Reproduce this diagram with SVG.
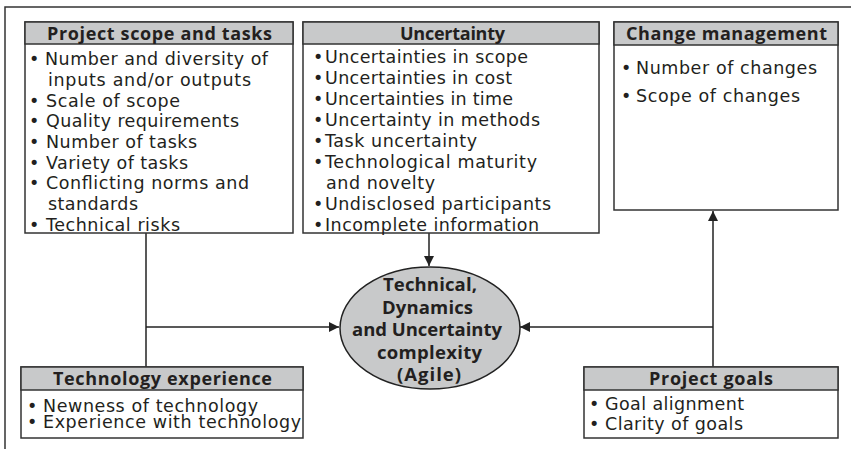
<svg xmlns="http://www.w3.org/2000/svg" width="851" height="449" viewBox="0 0 851 449">
<style>
.box{fill:#fff;stroke:#333;stroke-width:1.5}
.hdr{fill:#c8c9ca;stroke:#333;stroke-width:1.5}
.ht{font-family:"Open Sans","Liberation Sans",sans-serif;font-weight:bold;font-size:18px;fill:#231f20}
.bt{font-family:"DejaVu Sans","Open Sans",sans-serif;font-size:17.5px;fill:#231f20}
.et{font-family:"Open Sans","Liberation Sans",sans-serif;font-weight:bold;font-size:18.5px;fill:#231f20}
.ln{fill:none;stroke:#222;stroke-width:1.5}
</style>
<defs>
<marker id="ah" viewBox="0 0 10 10" refX="10" refY="5" markerWidth="10" markerHeight="10" markerUnits="userSpaceOnUse" orient="auto">
<path d="M0,0 L10,5 L0,10 z" fill="#222"/>
</marker>
</defs>
<rect width="851" height="449" fill="#fff"/>
<path d="M851,7 H5 V449" fill="none" stroke="#333" stroke-width="1.5"/>

<g id="connectors">
<path class="ln" d="M146,233 V367"/>
<path class="ln" d="M146,327 H339" marker-end="url(#ah)"/>
<path class="ln" d="M429,233 V266" marker-end="url(#ah)"/>
<path class="ln" d="M713,367 V211" marker-end="url(#ah)"/>
<path class="ln" d="M713,327 H520" marker-end="url(#ah)"/>
</g>

<g id="project-scope">
<rect class="box" x="25" y="22" width="268" height="211"/>
<rect class="hdr" x="25" y="22" width="268" height="22"/>
<text class="ht" x="47" y="39.5" textLength="225" lengthAdjust="spacing">Project scope and tasks</text>
<text class="bt" x="29" y="65">•</text><text class="bt" x="45" y="65" textLength="223" lengthAdjust="spacing">Number and diversity of</text>
<text class="bt" x="48" y="86" textLength="203" lengthAdjust="spacing">inputs and/or outputs</text>
<text class="bt" x="29" y="107">•</text><text class="bt" x="46" y="107" textLength="134" lengthAdjust="spacing">Scale of scope</text>
<text class="bt" x="29" y="127">•</text><text class="bt" x="46" y="127" textLength="193" lengthAdjust="spacing">Quality requirements</text>
<text class="bt" x="29" y="148">•</text><text class="bt" x="46" y="148" textLength="151" lengthAdjust="spacing">Number of tasks</text>
<text class="bt" x="29" y="169">•</text><text class="bt" x="46" y="169" textLength="142" lengthAdjust="spacing">Variety of tasks</text>
<text class="bt" x="29" y="189">•</text><text class="bt" x="46" y="189" textLength="203" lengthAdjust="spacing">Conflicting norms and</text>
<text class="bt" x="48" y="210" textLength="90" lengthAdjust="spacing">standards</text>
<text class="bt" x="29" y="231">•</text><text class="bt" x="46" y="231" textLength="134" lengthAdjust="spacing">Technical risks</text>
</g>

<g id="uncertainty">
<rect class="box" x="303" y="22" width="296" height="211"/>
<rect class="hdr" x="303" y="22" width="296" height="22"/>
<text class="ht" x="400" y="39.5" textLength="105" lengthAdjust="spacing">Uncertainty</text>
<text class="bt" x="313" y="63">•</text><text class="bt" x="325" y="63" textLength="203" lengthAdjust="spacing">Uncertainties in scope</text>
<text class="bt" x="313" y="84">•</text><text class="bt" x="325" y="84" textLength="187" lengthAdjust="spacing">Uncertainties in cost</text>
<text class="bt" x="313" y="105">•</text><text class="bt" x="325" y="105" textLength="188" lengthAdjust="spacing">Uncertainties in time</text>
<text class="bt" x="313" y="126">•</text><text class="bt" x="325" y="126" textLength="215" lengthAdjust="spacing">Uncertainty in methods</text>
<text class="bt" x="313" y="147">•</text><text class="bt" x="325" y="147" textLength="152" lengthAdjust="spacing">Task uncertainty</text>
<text class="bt" x="313" y="168">•</text><text class="bt" x="325" y="168" textLength="212" lengthAdjust="spacing">Technological maturity</text>
<text class="bt" x="326" y="189" textLength="109" lengthAdjust="spacing">and novelty</text>
<text class="bt" x="313" y="210">•</text><text class="bt" x="325" y="210" textLength="226" lengthAdjust="spacing">Undisclosed participants</text>
<text class="bt" x="313" y="231">•</text><text class="bt" x="325" y="231" textLength="214" lengthAdjust="spacing">Incomplete information</text>
</g>

<g id="change-management">
<rect class="box" x="614" y="22" width="224" height="188"/>
<rect class="hdr" x="614" y="22" width="224" height="23"/>
<text class="ht" x="626" y="39.5" textLength="201" lengthAdjust="spacing">Change management</text>
<text class="bt" x="621" y="74">•</text><text class="bt" x="636" y="74" textLength="181" lengthAdjust="spacing">Number of changes</text>
<text class="bt" x="621" y="102">•</text><text class="bt" x="636" y="102" textLength="164" lengthAdjust="spacing">Scope of changes</text>
</g>

<g id="complexity">
<ellipse cx="430" cy="328" rx="90" ry="61" fill="#c8c9ca" stroke="#222" stroke-width="1.5"/>
<text class="et" x="383" y="291" textLength="94" lengthAdjust="spacing">Technical,</text>
<text class="et" x="382" y="313.5" textLength="91" lengthAdjust="spacing">Dynamics</text>
<text class="et" x="352" y="336" textLength="150" lengthAdjust="spacing">and Uncertainty</text>
<text class="et" x="377" y="358.5" textLength="105" lengthAdjust="spacing">complexity</text>
<text class="et" x="397" y="381" textLength="64" lengthAdjust="spacing">(Agile)</text>
</g>

<g id="technology-experience">
<rect class="box" x="21" y="367" width="282" height="71"/>
<rect class="hdr" x="21" y="367" width="282" height="23"/>
<text class="ht" x="53" y="384.5" textLength="219" lengthAdjust="spacing">Technology experience</text>
<text class="bt" x="27" y="412">•</text><text class="bt" x="43" y="412" textLength="215" lengthAdjust="spacing">Newness of technology</text>
<text class="bt" x="27" y="428">•</text><text class="bt" x="43" y="428" textLength="258" lengthAdjust="spacing">Experience with technology</text>
</g>

<g id="project-goals">
<rect class="box" x="584" y="367" width="254" height="71"/>
<rect class="hdr" x="584" y="367" width="254" height="23"/>
<text class="ht" x="649" y="384.5" textLength="124" lengthAdjust="spacing">Project goals</text>
<text class="bt" x="589" y="410">•</text><text class="bt" x="605" y="410" textLength="139" lengthAdjust="spacing">Goal alignment</text>
<text class="bt" x="589" y="430">•</text><text class="bt" x="605" y="430" textLength="138" lengthAdjust="spacing">Clarity of goals</text>
</g>
</svg>
